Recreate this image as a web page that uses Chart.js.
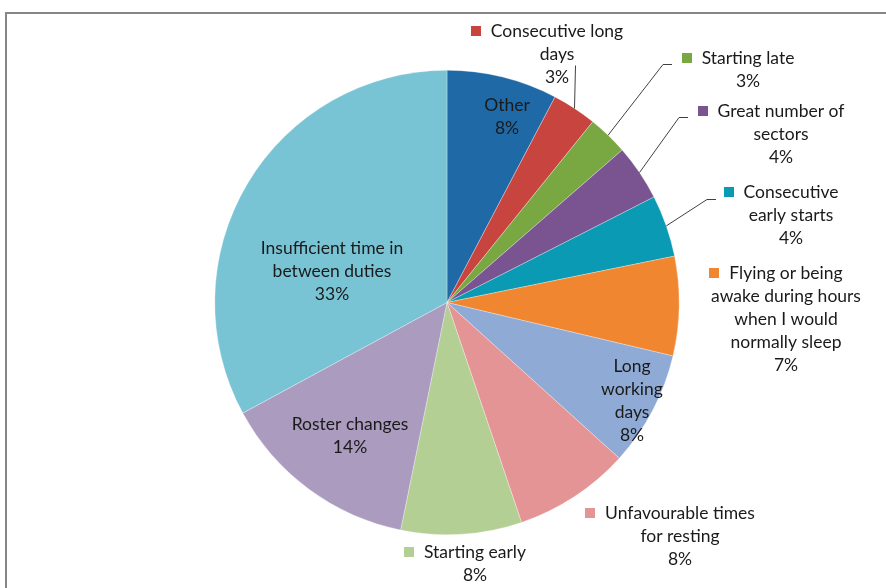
<!DOCTYPE html>
<html>
<head>
<meta charset="utf-8">
<script src="https://cdn.jsdelivr.net/npm/chart.js@4/dist/chart.umd.min.js"></script>
<style>
  html, body { margin: 0; padding: 0; background: #fff; }
  #wrap { width: 886px; height: 588px; }
</style>
</head>
<body>
<div id="wrap"><canvas id="fatiguePie" width="886" height="588"></canvas></div>
<script>
// categories, clockwise from 12 o'clock
var categories = [
  'Other', 'Consecutive long days', 'Starting late', 'Great number of sectors',
  'Consecutive early starts', 'Flying or being awake during hours when I would normally sleep',
  'Long working days', 'Unfavourable times for resting', 'Starting early',
  'Roster changes', 'Insufficient time in between duties'
];
// shares (percent)
var shares = [7.7, 3.1, 2.8, 3.9, 4.3, 6.9, 8.0, 8.1, 8.4, 13.9, 32.9];
// percent labels as printed on the chart
var pctLabels = ['8%', '3%', '3%', '4%', '4%', '7%', '8%', '8%', '8%', '14%', '33%'];
// wrapped label text
var labelLines = [
  ['Other'],
  ['Consecutive long', 'days'],
  ['Starting late'],
  ['Great number of', 'sectors'],
  ['Consecutive', 'early starts'],
  ['Flying or being', 'awake during hours', 'when I would', 'normally sleep'],
  ['Long', 'working', 'days'],
  ['Unfavourable times', 'for resting'],
  ['Starting early'],
  ['Roster changes'],
  ['Insufficient time in', 'between duties']
];

var sliceColors = ['#1F6AA6', '#C8453F', '#79A843', '#7A5490', '#0A9AB3', '#F08630',
                   '#8FAAD5', '#E59496', '#B3CF94', '#AA9BBF', '#78C4D5'];

// where each label block sits (center x, y of first line) and its leader line
var labelPlace = [
  { x: 507, y: 105 },
  { x: 557, y: 31, key: true, leader: [[574, 65]] },
  { x: 748, y: 58, key: true, leader: [[663, 64], [672, 64]] },
  { x: 781, y: 111, key: true, leader: [[679, 117], [688, 117]] },
  { x: 791, y: 192, key: true, leader: [[707, 199], [716, 199]] },
  { x: 786, y: 273, key: true },
  { x: 632, y: 366 },
  { x: 680, y: 513, key: true },
  { x: 475, y: 552, key: true },
  { x: 350, y: 424 },
  { x: 332, y: 248 }
];

var FONT = '17.5px Lato, "Open Sans", sans-serif';
var LINE_H = 23;

var frame = {
  id: 'frame',
  beforeDraw: function (chart) {
    var c = chart.ctx;
    c.save();
    c.strokeStyle = '#868686';
    c.lineWidth = 2;
    c.strokeRect(6, 13, 900, 600);
    c.restore();
  }
};

var sliceLabels = {
  id: 'sliceLabels',
  afterDatasetsDraw: function (chart) {
    var c = chart.ctx;
    var arcs = chart.getDatasetMeta(0).data;
    c.save();
    c.font = FONT;
    c.textAlign = 'center';
    c.textBaseline = 'middle';
    arcs.forEach(function (arc, i) {
      var p = labelPlace[i];
      var lines = labelLines[i].concat([pctLabels[i]]);
      // leader line from slice edge at mid angle
      if (p.leader) {
        var mid = (arc.startAngle + arc.endAngle) / 2;
        var sx = arc.x + Math.cos(mid) * arc.outerRadius;
        var sy = arc.y + Math.sin(mid) * arc.outerRadius;
        c.strokeStyle = '#404040';
        c.lineWidth = 1;
        c.beginPath();
        c.moveTo(sx, sy);
        p.leader.forEach(function (pt) {
          var px = (p.leader.length === 1) ? Math.round(sx) + 0.5 : pt[0];
          c.lineTo(px, pt[1] + 0.5);
        });
        c.stroke();
      }
      c.fillStyle = '#1a1a1a';
      lines.forEach(function (t, k) {
        c.fillText(t, p.x, p.y + k * LINE_H);
      });
      if (p.key) {
        var w = c.measureText(lines[0]).width;
        c.fillStyle = sliceColors[i];
        c.fillRect(Math.round(p.x - w / 2 - 20), Math.round(p.y - 5), 10, 10);
      }
    });
    c.restore();
  }
};

new Chart(document.getElementById('fatiguePie').getContext('2d'), {
  type: 'pie',
  data: {
    labels: categories,
    datasets: [{
      data: shares,
      backgroundColor: sliceColors,
      borderColor: 'rgba(255,255,255,0.6)',
      borderWidth: 0.5
    }]
  },
  options: {
    responsive: false,
    animation: false,
    layout: { padding: { left: 214.5, right: 206.5, top: 70, bottom: 53 } },
    plugins: {
      legend: { display: false },
      tooltip: { enabled: false }
    }
  },
  plugins: [frame, sliceLabels]
});
</script>
</body>
</html>
